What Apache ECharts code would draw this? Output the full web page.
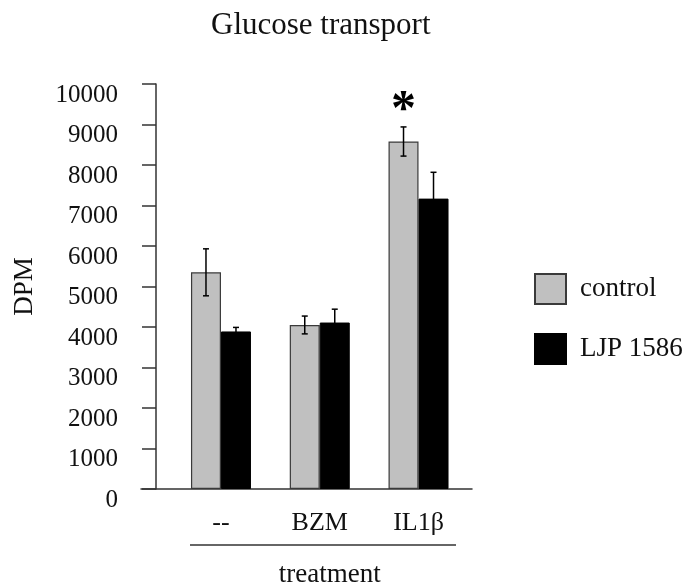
<!DOCTYPE html>
<html>
<head>
<meta charset="utf-8">
<script src="https://cdn.jsdelivr.net/npm/echarts@6/dist/echarts.min.js"></script>
<style>
  html, body { margin: 0; background: #fff; }
  #main { width: 683px; height: 583px; }
</style>
</head>
<body>
<div id="main"></div>
<script>
// values
const categories = ['--', 'BZM', 'IL1β'];
const controlMean = [5350, 4050, 8580];
const controlErr = [580, 220, 360];
const ljpMean = [3890, 4110, 7170];
const ljpErr = [100, 330, 650];
const controlMarks = ['', '', '*'];
const ljpMarks = ['', '', ''];

const serif = 'Liberation Serif, Times New Roman, serif';
const ink = '#111';
const lineCol = '#333';
const barW = 30;

// error bar (+ optional significance mark) drawn on top of one bar of each group
function errorSeries(means, errs, marks, shift) {
  return {
    type: 'custom',
    xAxisIndex: 0,
    yAxisIndex: 0,
    z: 5,
    silent: true,
    data: means.map((m, i) => [i, m, errs[i]]),
    renderItem: function (params, api) {
      const i = api.value(0), m = api.value(1), e = api.value(2);
      const top = api.coord([i, m + e]);
      const bot = api.coord([i, m - e]);
      const x = top[0] + shift;
      const cap = 3;
      const style = { stroke: '#000', lineWidth: 1.5 };
      const children = [
        { type: 'line', shape: { x1: x, y1: top[1], x2: x, y2: bot[1] }, style: style },
        { type: 'line', shape: { x1: x - cap, y1: top[1], x2: x + cap, y2: top[1] }, style: style },
        { type: 'line', shape: { x1: x - cap, y1: bot[1], x2: x + cap, y2: bot[1] }, style: style }
      ];
      const mk = marks[params.dataIndex];
      if (mk) {
        children.push({
          type: 'text',
          style: {
            text: mk, x: x, y: top[1] - 16,
            fill: '#000', font: 'bold 50px ' + serif,
            align: 'center', verticalAlign: 'middle'
          }
        });
      }
      return { type: 'group', children: children };
    }
  };
}

const chart = echarts.init(document.getElementById('main'));
chart.setOption({
  animation: false,
  backgroundColor: '#fff',
  title: {
    text: 'Glucose transport',
    left: 206,
    top: 5,
    textStyle: { fontFamily: serif, fontSize: 31, fontWeight: 'normal', color: ink }
  },
  legend: {
    data: ['control', 'LJP 1586'],
    orient: 'vertical',
    left: 529,
    top: 268,
    itemWidth: 31,
    itemHeight: 30,
    itemGap: 28,
    icon: 'rect',
    textStyle: { fontFamily: serif, fontSize: 27, color: ink, padding: [0, 0, 0, 9] }
  },
  grid: [
    { left: 171.6, top: 84, width: 296.3, height: 405, outerBoundsMode: 'none', containLabel: false },
    { left: 141, top: 84, width: 331, height: 405, outerBoundsMode: 'none', containLabel: false }
  ],
  xAxis: [
    {
      type: 'category',
      gridIndex: 0,
      data: categories,
      axisLine: { show: false },
      axisTick: { show: false },
      axisLabel: { margin: 21, fontFamily: serif, fontSize: 26, color: ink },
      name: 'treatment',
      nameLocation: 'middle',
      nameGap: 72,
      nameTextStyle: { fontFamily: serif, fontSize: 27, color: ink, padding: [0, 0, 0, 20] }
    },
    {
      type: 'value',
      gridIndex: 1,
      min: 0,
      max: 1,
      axisLine: { show: true, lineStyle: { color: lineCol, width: 1.5 } },
      axisTick: { show: false },
      axisLabel: { show: false },
      splitLine: { show: false }
    }
  ],
  yAxis: [
    {
      type: 'value',
      gridIndex: 0,
      min: 0,
      max: 10000,
      interval: 1000,
      offset: 15.6,
      axisLine: { show: true, lineStyle: { color: lineCol, width: 1.5 } },
      axisTick: { show: true, length: 14, lineStyle: { color: lineCol, width: 1.5 } },
      axisLabel: {
        margin: 38, fontFamily: serif, fontSize: 25, color: ink,
        verticalAlign: 'top', lineHeight: 22,
        formatter: function (v) { return String(v); }
      },
      splitLine: { show: false },
      name: 'DPM',
      nameLocation: 'middle',
      nameGap: 118,
      nameTextStyle: { fontFamily: serif, fontSize: 27, color: ink }
    },
    { type: 'value', gridIndex: 1, min: 0, max: 1, show: false }
  ],
  graphic: [
    {
      type: 'line',
      shape: { x1: 190, y1: 545, x2: 456, y2: 545 },
      style: { stroke: lineCol, lineWidth: 1.5 }
    }
  ],
  series: [
    {
      name: 'control',
      type: 'bar',
      xAxisIndex: 0,
      yAxisIndex: 0,
      data: controlMean,
      barWidth: barW,
      barGap: '0%',
      itemStyle: { color: '#c0c0c0', borderColor: '#3a3a3a', borderWidth: 1.2 }
    },
    {
      name: 'LJP 1586',
      type: 'bar',
      xAxisIndex: 0,
      yAxisIndex: 0,
      data: ljpMean,
      barWidth: barW,
      barGap: '0%',
      itemStyle: { color: '#000', borderColor: '#000', borderWidth: 1 }
    },
    errorSeries(controlMean, controlErr, controlMarks, -barW / 2),
    errorSeries(ljpMean, ljpErr, ljpMarks, barW / 2)
  ]
});
</script>
</body>
</html>
